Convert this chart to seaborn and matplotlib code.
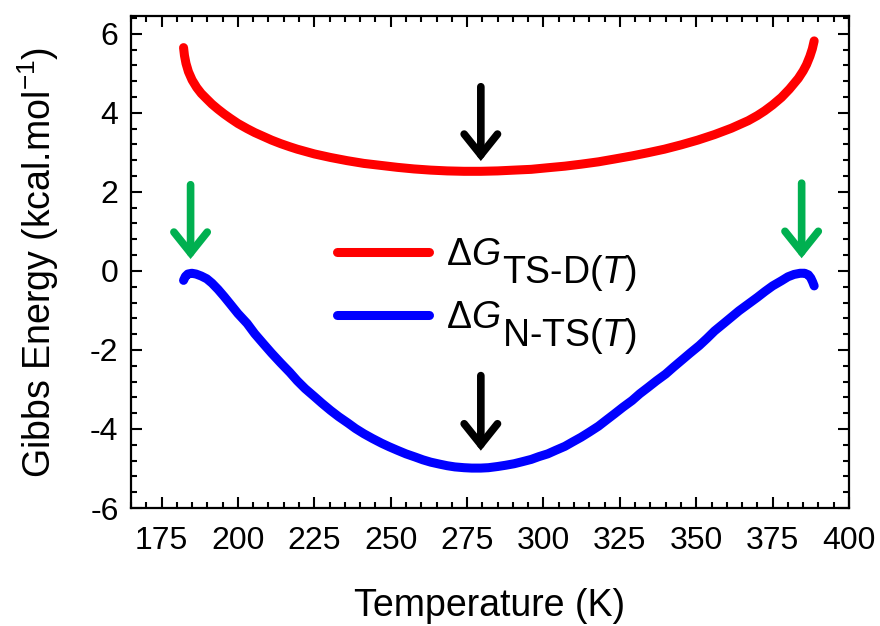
import numpy as np
import pandas as pd
import matplotlib
matplotlib.use('Agg')
import matplotlib.pyplot as plt
from matplotlib.ticker import MultipleLocator, FormatStrFormatter
from matplotlib.transforms import IdentityTransform
import seaborn as sns

# curves
temp_red = [182.2, 182.5, 183.0, 183.8, 185.0, 186.5, 188.0, 189.8, 191.5, 193.5,
            195.5, 197.5, 200.0, 203.0, 205.5, 208.4, 211.0, 214.0, 217.0, 219.4,
            225.0, 230.3, 235.7, 241.2, 246.7, 252.2, 257.6, 263.1, 268.5, 274.0,
            279.5, 285.0, 290.4, 296.0, 301.4, 307.0, 312.3, 318.0, 323.2, 329.0,
            334.2, 339.6, 345.1, 350.5, 356.0, 361.5, 367.0, 370.0, 372.4, 375.0,
            377.9, 380.5, 383.4, 385.0, 386.1, 387.2, 388.0, 388.6]
dg_red = [5.65, 5.45, 5.25, 5.04, 4.83, 4.64, 4.49, 4.35, 4.22, 4.09,
          3.97, 3.86, 3.73, 3.60, 3.50, 3.40, 3.31, 3.22, 3.14, 3.08,
          2.96, 2.87, 2.79, 2.72, 2.67, 2.62, 2.58, 2.55, 2.53, 2.52,
          2.52, 2.53, 2.55, 2.57, 2.61, 2.65, 2.70, 2.76, 2.83, 2.91,
          2.99, 3.08, 3.19, 3.31, 3.45, 3.61, 3.80, 3.93, 4.05, 4.20,
          4.39, 4.60, 4.87, 5.06, 5.22, 5.43, 5.62, 5.82]

temp_blue = [182.2, 182.8, 183.6, 184.9, 186.3, 188.0, 189.8, 191.5, 193.5, 195.5,
             197.5, 200.0, 203.0, 205.5, 208.4, 211.0, 214.0, 217.0, 219.4, 222.0,
             225.0, 227.5, 230.3, 233.0, 236.0, 238.5, 241.2, 244.0, 247.0, 249.5,
             252.2, 255.0, 258.0, 260.5, 263.1, 266.0, 268.5, 271.0, 274.0, 276.5,
             279.5, 282.0, 285.0, 287.5, 290.4, 293.0, 296.0, 298.5, 301.4, 304.0,
             307.0, 309.5, 312.3, 315.0, 318.0, 320.5, 323.2, 326.0, 329.0, 331.5,
             334.2, 337.0, 340.0, 342.5, 345.1, 348.0, 351.0, 353.5, 356.0, 359.0,
             361.5, 364.0, 367.0, 370.0, 372.5, 375.0, 377.9, 380.0, 382.0, 384.0,
             385.5, 386.7, 387.5, 388.1, 388.6]
dg_blue = [-0.24, -0.14, -0.08, -0.06, -0.08, -0.13, -0.20, -0.31, -0.47, -0.65,
           -0.84, -1.08, -1.33, -1.59, -1.85, -2.08, -2.33, -2.57, -2.78, -2.98,
           -3.18, -3.35, -3.53, -3.69, -3.85, -3.99, -4.12, -4.24, -4.36, -4.45,
           -4.54, -4.63, -4.71, -4.78, -4.84, -4.89, -4.93, -4.96, -4.98, -4.99,
           -4.99, -4.98, -4.95, -4.92, -4.88, -4.83, -4.77, -4.70, -4.63, -4.54,
           -4.44, -4.33, -4.21, -4.08, -3.93, -3.78, -3.62, -3.45, -3.28, -3.11,
           -2.95, -2.78, -2.61, -2.44, -2.27, -2.08, -1.89, -1.71, -1.52, -1.33,
           -1.17, -1.01, -0.84, -0.67, -0.52, -0.38, -0.25, -0.15, -0.09, -0.06,
           -0.06, -0.10, -0.18, -0.28, -0.38]

# arrows: (T, y_start, y_tip)
black_arrows = [(279.5, 4.66, 2.78), (279.5, -2.65, -4.55)]
green_arrows = [(184.5, 2.18, 0.30), (384.5, 2.22, 0.32)]

legend_subs = ['TS-D($\\mathit{T}$)', 'N-TS($\\mathit{T}$)']

sns.set_theme(style='ticks')
plt.rcParams['font.family'] = ['Liberation Sans', 'DejaVu Sans']
plt.rcParams['mathtext.fontset'] = 'custom'
plt.rcParams['mathtext.rm'] = 'Liberation Sans'
plt.rcParams['mathtext.it'] = 'Liberation Sans:italic'
plt.rcParams['axes.unicode_minus'] = False
for k in ['text.color', 'axes.labelcolor', 'xtick.color', 'ytick.color', 'axes.edgecolor']:
    plt.rcParams[k] = 'black'

df_red = pd.DataFrame({'T': temp_red, 'G': dg_red})
df_blue = pd.DataFrame({'T': temp_blue, 'G': dg_blue})

fig = plt.figure(figsize=(8.8, 6.26), dpi=100)
ax = fig.add_axes([131 / 880, 118 / 626, 718 / 880, 492 / 626])

sns.lineplot(data=df_red, x='T', y='G', ax=ax, color='#ff0000', lw=6.5,
             sort=False, solid_capstyle='round', label='Δ$\\mathit{G}$')
sns.lineplot(data=df_blue, x='T', y='G', ax=ax, color='#0000ff', lw=6.5,
             sort=False, solid_capstyle='round', label='Δ$\\mathit{G}$')

arrow_style = '->,head_length=0.75,head_width=0.6'
for t, y0, y1 in black_arrows:
    ax.annotate('', xy=(t, y1), xytext=(t, y0),
                arrowprops=dict(arrowstyle=arrow_style, lw=5.5, color='black',
                                shrinkA=0, shrinkB=0, mutation_scale=20,
                                capstyle='round', joinstyle='miter'))
for t, y0, y1 in green_arrows:
    ax.annotate('', xy=(t, y1), xytext=(t, y0),
                arrowprops=dict(arrowstyle=arrow_style, lw=5.5, color='#00b050',
                                shrinkA=0, shrinkB=0, mutation_scale=20,
                                capstyle='round', joinstyle='miter'))

ax.set_xlim(165, 400)
ax.set_ylim(-6, 6.45)
ax.xaxis.set_major_locator(MultipleLocator(25))
ax.xaxis.set_minor_locator(MultipleLocator(5))
ax.yaxis.set_major_locator(MultipleLocator(2))
ax.yaxis.set_minor_locator(MultipleLocator(0.4))
ax.xaxis.set_major_formatter(FormatStrFormatter('%d'))
ax.yaxis.set_major_formatter(FormatStrFormatter('%d'))
ax.tick_params(which='both', direction='in', top=True, right=True,
               width=1.5, color='black')
ax.tick_params(which='major', length=8, labelsize=23)
ax.tick_params(axis='x', which='major', pad=13)
ax.tick_params(axis='y', which='major', pad=9)
ax.tick_params(which='minor', length=4.5)
for s in ax.spines.values():
    s.set_linewidth(1.6)
    s.set_color('black')

ax.set_xlabel('Temperature (K)', fontsize=27)
ax.set_ylabel('Gibbs Energy (kcal.mol$^{-1}$)', fontsize=27)
ax.xaxis.set_label_coords(0.5, -0.163)
ax.yaxis.set_label_coords(-0.098, 0.5)

leg = ax.legend(loc='center left', bbox_to_anchor=(0.287, 0.45), frameon=False,
                fontsize=27, handlelength=2.45, handletextpad=0.45,
                labelspacing=0.72, borderpad=0, borderaxespad=0)

fig.canvas.draw()
for txt, sub in zip(leg.get_texts(), legend_subs):
    bb = txt.get_window_extent()
    fig.text(bb.x1 + 2, bb.y0 - 10, sub, transform=IdentityTransform(),
             fontsize=27, va='baseline', ha='left')

fig.savefig('out.png', dpi=100)
